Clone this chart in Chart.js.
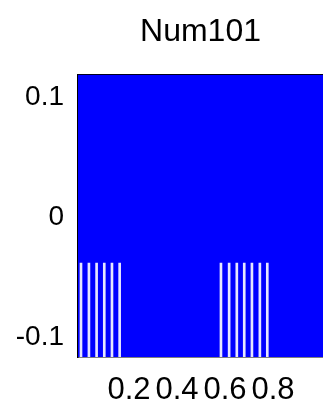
<!DOCTYPE html>
<html>
<head>
<meta charset="utf-8">
<script src="https://cdn.jsdelivr.net/npm/chart.js@4/dist/chart.umd.min.js"></script>
<style>
  html, body { margin: 0; padding: 0; background: #fff; }
  #wrap { width: 323px; height: 407px; }
</style>
</head>
<body>
<div id="wrap"><canvas id="chart" width="323" height="407"></canvas></div>
<script>
const titleText = "Num101";

// axis limits and ticks
const xRange = [-0.0125, 1.008];
const yRange = [-0.116, 0.119];
const xTicks = [0.2, 0.4, 0.6, 0.8];
const yTicks = [-0.1, 0, 0.1];

// blue area spans the full width at the top value
const areaX = [-0.0125, 1.008];
const areaY = [0.119, 0.119];

// thin white gaps near the bottom
const gapX = [0.000, 0.033, 0.065, 0.097, 0.129, 0.161,
              0.583, 0.617, 0.649, 0.680, 0.712, 0.745, 0.776];
const gapLow = -0.116;
const gapHigh = -0.038;

const font = "'Liberation Sans', Arial, sans-serif";

const chart = new Chart(document.getElementById("chart"), {
  data: {
    datasets: [
      {
        type: "bar",
        order: 1,
        data: gapX.map((x) => ({ x, y: [gapLow, gapHigh] })),
        backgroundColor: "rgba(255,255,255,0.9)",
        borderWidth: 0,
        barThickness: 2,
        grouped: false,
      },
      {
        type: "line",
        order: 2,
        data: areaX.map((x, i) => ({ x, y: areaY[i] })),
        borderWidth: 0,
        borderColor: "#0000ff",
        backgroundColor: "#0000ff",
        pointRadius: 0,
        fill: "start",
      },
    ],
  },
  options: {
    responsive: false,
    animation: false,
    events: [],
    layout: { padding: 0 },
    plugins: {
      legend: { display: false },
      tooltip: { enabled: false },
      title: {
        display: true,
        fullSize: false,
        text: titleText,
        color: "#000",
        font: { family: font, size: 32, weight: "normal" },
        padding: { top: 13, bottom: 23 },
      },
    },
    scales: {
      x: {
        type: "linear",
        offset: false,
        min: xRange[0],
        max: xRange[1],
        afterBuildTicks: (s) => { s.ticks = xTicks.map((v) => ({ value: v })); },
        afterFit: (s) => { s.height = 50; },
        grid: { display: false, drawTicks: false, offset: false },
        border: { display: true, color: "#000", width: 1.5 },
        ticks: {
          color: "#000",
          padding: 15,
          maxRotation: 0,
          autoSkip: false,
          font: { family: font, size: 31 },
          callback: (v) => String(v),
        },
      },
      x2: {
        type: "linear",
        position: "top",
        offset: false,
        min: xRange[0],
        max: xRange[1],
        afterFit: (s) => { s.height = 0; },
        grid: { display: false, drawTicks: false },
        border: { display: true, color: "#000", width: 1.5 },
        ticks: { display: false },
      },
      y: {
        min: yRange[0],
        max: yRange[1],
        afterBuildTicks: (s) => { s.ticks = yTicks.map((v) => ({ value: v })); },
        afterFit: (s) => { s.width = 78; },
        grid: { display: false, drawTicks: false },
        border: { display: true, color: "#000", width: 1.5 },
        ticks: {
          color: "#000",
          padding: 14,
          autoSkip: false,
          font: { family: font, size: 28 },
          callback: (v) => String(v),
        },
      },
    },
  },
});
</script>
</body>
</html>
